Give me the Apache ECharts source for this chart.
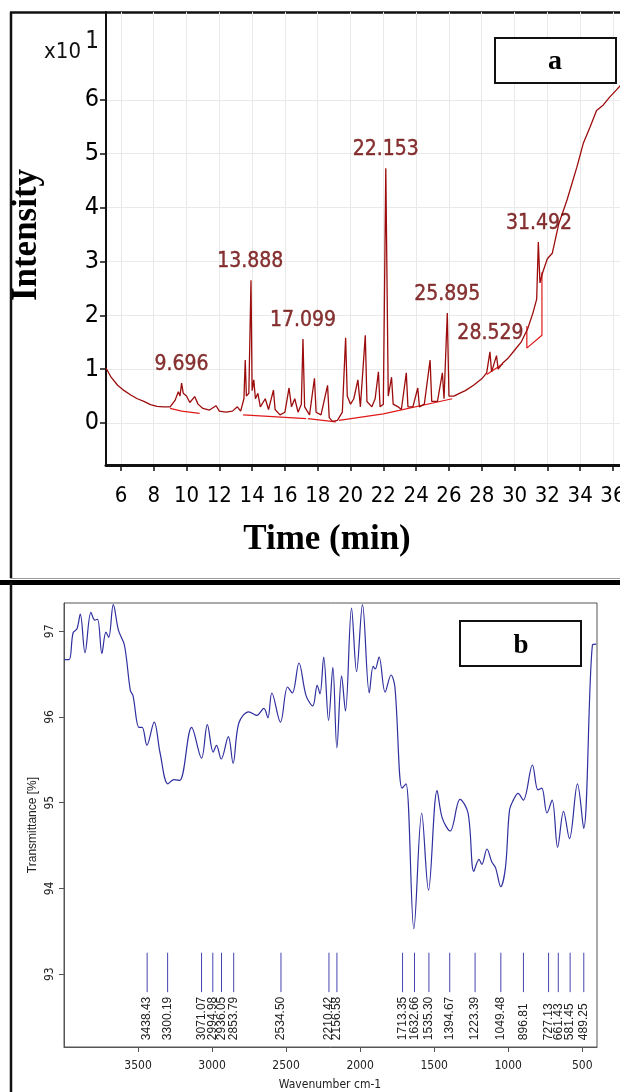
<!DOCTYPE html>
<html>
<head>
<meta charset="utf-8">
<script src="https://cdn.jsdelivr.net/npm/echarts@6/dist/echarts.min.js"></script>
<style>
html,body{margin:0;padding:0;background:#fff;}
#chart{width:620px;height:1092px;}
</style>
</head>
<body>
<div id="chart"></div>
<script>
// ---------- Panel a: GC chromatogram (intensity x10^1) ----------
const gcTime = [5.09,5.4,5.8,6.2,6.6,7.0,7.4,7.8,8.2,8.6,9.0,9.3,9.5,9.6,9.7,9.8,10.0,10.2,10.5,10.7,11.0,11.4,11.8,12.0,12.4,12.8,13.1,13.3,13.5,13.58,13.65,13.8,13.93,14.0,14.1,14.2,14.35,14.5,14.8,15.0,15.3,15.4,15.7,16.0,16.25,16.4,16.6,16.8,17.0,17.1,17.2,17.5,17.8,17.9,18.2,18.6,18.7,18.9,19.2,19.5,19.7,19.8,20.0,20.2,20.45,20.6,20.9,21.0,21.3,21.5,21.7,21.8,22.0,22.15,22.3,22.5,22.6,22.9,23.1,23.4,23.5,23.8,24.1,24.2,24.5,24.85,24.95,25.3,25.6,25.7,25.9,26.0,26.3,26.7,27.0,27.5,28.0,28.3,28.5,28.6,28.9,29.0,29.3,29.6,30.0,30.4,30.8,31.12,31.35,31.45,31.55,31.7,32.0,32.3,32.7,33.2,33.8,34.2,34.6,35.0,35.4,35.8,36.2,36.5];
const gcIntensity = [1.02,0.85,0.7,0.6,0.52,0.45,0.4,0.34,0.31,0.3,0.3,0.42,0.58,0.5,0.74,0.55,0.5,0.38,0.49,0.35,0.27,0.24,0.32,0.22,0.2,0.22,0.3,0.22,0.45,1.17,0.5,0.55,2.65,0.6,0.8,0.45,0.55,0.3,0.45,0.25,0.61,0.25,0.15,0.2,0.65,0.3,0.45,0.2,0.35,1.56,0.3,0.15,0.83,0.2,0.15,0.7,0.1,0.03,0.05,0.2,1.58,0.5,0.35,0.45,0.8,0.3,1.63,0.4,0.3,0.45,0.95,0.3,0.35,4.73,0.5,0.85,0.35,0.3,0.25,0.93,0.3,0.3,0.65,0.3,0.35,1.17,0.4,0.4,0.93,0.45,2.04,0.5,0.5,0.56,0.6,0.7,0.82,0.93,1.32,0.95,1.25,1.0,1.12,1.2,1.35,1.5,1.75,2.04,2.3,3.36,2.6,2.78,3.05,3.15,3.7,4.14,4.75,5.2,5.49,5.8,5.9,6.05,6.18,6.28];
// integration baselines (bright red segments under peaks), null separates segments
const gcBaseTime = [9.0,9.7,10.8,null,13.45,17.3,null,17.4,19.1,null,19.3,22.0,null,22.0,26.2,null,28.3,29.3,null,30.75,30.75,31.67,31.67];
const gcBaseIntensity = [0.27,0.22,0.18,null,0.15,0.08,null,0.08,0.02,null,0.05,0.17,null,0.17,0.45,null,0.9,1.1,null,1.8,1.39,1.63,2.8];
const gcPeakTimes = [9.696,13.888,17.099,22.153,25.895,28.529,31.492];
const gcPeakHeights = [0.74,2.65,1.56,4.73,2.04,1.32,3.36];
const gcPeakLabels = ['9.696','13.888','17.099','22.153','25.895','28.529','31.492'];
const gcXTicks = [6,8,10,12,14,16,18,20,22,24,26,28,30,32,34,36];
const gcYTicks = [0,1,2,3,4,5,6];

// ---------- Panel b: FTIR spectrum ----------
const ftirWavenumber = [3997,3965,3939,3912,3890,3858,3818,3792,3773,3744,3717,3698,3667,3632,3592,3552,3534,3494,3472,3440,3391,3351,3298,3258,3219,3138,3071,3032,2992,2970,2938,2890,2858,2819,2752,2698,2650,2623,2596,2538,2490,2458,2413,2365,2320,2290,2271,2246,2213,2184,2157,2125,2099,2058,2024,1984,1938,1912,1898,1872,1831,1791,1765,1717,1690,1637,1584,1538,1480,1445,1392,1325,1271,1232,1197,1178,1143,1111,1085,1050,1018,991,965,933,898,836,799,773,738,703,666,626,586,532,490,431,405];
const ftirTransmittance = [96.67,96.67,96.98,97.03,97.2,96.75,97.22,97.13,97.14,96.74,96.99,96.93,97.31,97.01,96.84,96.31,96.25,95.88,95.88,95.67,95.94,95.58,95.22,95.27,95.26,95.88,95.52,95.91,95.59,95.67,95.51,95.77,95.46,95.93,96.06,96.02,96.1,95.99,96.28,95.94,96.35,96.28,96.63,96.25,96.13,96.37,96.27,96.7,95.96,96.58,95.64,96.48,96.07,97.27,96.53,97.31,96.28,96.59,96.56,96.7,96.29,96.49,96.35,95.17,95.22,93.53,94.88,93.98,95.14,94.82,94.67,95.04,94.88,94.2,94.34,94.28,94.46,94.31,94.24,94.02,94.25,94.91,95.03,95.11,95.03,95.44,95.15,95.17,94.88,95.03,94.48,94.9,94.58,95.22,94.7,96.84,96.85];
const ftirPeaks = [3438.43,3300.19,3071.07,2994.98,2936.05,2853.79,2534.50,2210.42,2156.58,1713.35,1632.66,1535.30,1394.67,1223.39,1049.48,896.81,727.13,661.43,581.45,489.25];
const ftirPeakLabels = ['3438.43','3300.19','3071.07','2994.98','2936.05','2853.79','2534.50','2210.42','2156.58','1713.35','1632.66','1535.30','1394.67','1223.39','1049.48','896.81','727.13','661.43','581.45','489.25'];
const ftirXTicks = [500,1000,1500,2000,2500,3000,3500];
const ftirYTicks = [93,94,95,96,97];

const NARROW = "'Liberation Sans Narrow','Arial Narrow','DejaVu Sans Condensed','Liberation Sans',sans-serif";
const SERIF = "'Liberation Serif','Times New Roman',serif";
const SANS = "'Liberation Sans',Arial,sans-serif";

const chart = echarts.init(document.getElementById('chart'), null, {renderer:'canvas'});

const option = {
  backgroundColor:'#ffffff',
  animation:false,
  grid:[
    {left:106, top:12, width:514, height:453, containLabel:false, outerBoundsMode:'none'},
    {left:64, top:603, width:533, height:444, containLabel:false, outerBoundsMode:'none',
     show:true, borderColor:'#555', borderWidth:1, backgroundColor:'transparent'}
  ],
  xAxis:[
    {gridIndex:0, type:'value', min:5.09, max:36.43,
     axisLine:{show:true, onZero:false, lineStyle:{color:'#111', width:3}},
     axisTick:{show:true, customValues:gcXTicks, length:6, lineStyle:{color:'#111', width:1.5}},
     axisLabel:{show:true, customValues:gcXTicks, margin:20, color:'#000', fontSize:22, fontFamily:NARROW},
     splitLine:{show:true, lineStyle:{color:'#e9e9e9', width:1}}},
    {gridIndex:1, type:'value', min:400, max:4000, inverse:true,
     axisLine:{show:true, onZero:false, lineStyle:{color:'#555', width:1}},
     axisTick:{show:true, customValues:ftirXTicks, length:5, lineStyle:{color:'#555'}},
     axisLabel:{show:true, customValues:ftirXTicks, margin:13, color:'#222', fontSize:12, fontFamily:NARROW,
                formatter:(v)=>String(v)},
     splitLine:{show:false}}
  ],
  yAxis:[
    {gridIndex:0, type:'value', min:-0.78, max:7.63,
     axisLine:{show:true, onZero:false, lineStyle:{color:'#111', width:2}},
     axisTick:{show:true, customValues:gcYTicks, length:6, lineStyle:{color:'#111', width:1.5}},
     axisLabel:{show:true, customValues:gcYTicks, margin:7, color:'#000', fontSize:25, fontFamily:NARROW},
     splitLine:{show:true, lineStyle:{color:'#e9e9e9', width:1}}},
    {gridIndex:1, type:'value', min:92.15, max:97.33,
     axisLine:{show:true, onZero:false, lineStyle:{color:'#555', width:1}},
     axisTick:{show:true, customValues:ftirYTicks, length:5, lineStyle:{color:'#555'}},
     axisLabel:{show:true, customValues:ftirYTicks, rotate:90, margin:8, color:'#222', fontSize:12, fontFamily:NARROW},
     splitLine:{show:false}}
  ],
  series:[
    {type:'line', xAxisIndex:0, yAxisIndex:0, showSymbol:false, symbol:'none', connectNulls:false,
     data: gcBaseTime.map((t,i)=>[t, gcBaseIntensity[i]]),
     lineStyle:{color:'#e01818', width:1.2}, z:2},
    {type:'line', xAxisIndex:0, yAxisIndex:0, showSymbol:false, symbol:'none',
     data: gcTime.map((t,i)=>[t, gcIntensity[i]]),
     lineStyle:{color:'#9c0c0c', width:1.3}, z:3},
    {type:'scatter', xAxisIndex:0, yAxisIndex:0, symbolSize:0,
     data: gcPeakTimes.map((t,i)=>[t, gcPeakHeights[i]]),
     label:{show:true, position:'top', distance:8, color:'#6a0000', fontSize:21, fontFamily:NARROW,
            textBorderColor:'#6a0000', textBorderWidth:0.4,
            formatter:(p)=>gcPeakLabels[p.dataIndex]}, z:5},
    {type:'line', xAxisIndex:1, yAxisIndex:1, showSymbol:false, symbol:'none', smooth:0.35,
     data: ftirWavenumber.map((w,i)=>[w, ftirTransmittance[i]]),
     lineStyle:{color:'#2f2f9f', width:1.2}},
    {type:'custom', xAxisIndex:1, yAxisIndex:1,
     data: ftirPeaks.map(w=>[w]),
     renderItem:(params, api)=>{
       const w = api.value(0);
       const p1 = api.coord([w, 93.25]);
       const p2 = api.coord([w, 92.79]);
       const p3 = api.coord([w, 92.23]);
       return {type:'group', children:[
         {type:'line', shape:{x1:p1[0], y1:p1[1], x2:p2[0], y2:p2[1]}, style:{stroke:'#4545b0', lineWidth:1}},
         {type:'text', x:p3[0], y:p3[1], rotation:Math.PI/2,
          style:{text:ftirPeakLabels[params.dataIndex], fill:'#222', font:"12px "+SANS, align:'left', verticalAlign:'middle'}}
       ]};
     }}
  ],
  graphic:[
    // panel a frame
    {type:'line', shape:{x1:10, y1:12.5, x2:620, y2:12.5}, style:{stroke:'#111', lineWidth:2.5}, silent:true},
    {type:'line', shape:{x1:11, y1:12, x2:11, y2:578}, style:{stroke:'#111', lineWidth:2.5}, silent:true},
    {type:'line', shape:{x1:10, y1:578.5, x2:620, y2:578.5}, style:{stroke:'#999', lineWidth:1}, silent:true},
    // separator and panel b frame
    {type:'rect', shape:{x:0, y:580, width:620, height:5}, style:{fill:'#000'}, silent:true},
    {type:'line', shape:{x1:11, y1:582, x2:11, y2:1092}, style:{stroke:'#111', lineWidth:2.5}, silent:true},
    // panel a texts
    {type:'text', x:81, y:52, style:{text:'x10', fill:'#111', font:"22px "+NARROW, align:'right', verticalAlign:'middle'}},
    {type:'text', x:92, y:42, style:{text:'1', fill:'#111', font:"24px "+NARROW, align:'center', verticalAlign:'middle'}},
    {type:'text', x:27, y:235, rotation:Math.PI/2, style:{text:'Intensity', fill:'#000', font:"bold 35px "+SERIF, align:'center', verticalAlign:'middle'}},
    {type:'text', x:327, y:540, style:{text:'Time (min)', fill:'#000', font:"bold 35px "+SERIF, align:'center', verticalAlign:'middle'}},
    {type:'rect', shape:{x:495, y:38, width:121, height:45}, style:{fill:'#fff', stroke:'#111', lineWidth:2}, z:10},
    {type:'text', x:555, y:62, style:{text:'a', fill:'#000', font:"bold 28px "+SERIF, align:'center', verticalAlign:'middle'}, z:11},
    // panel b texts
    {type:'text', x:33, y:825, rotation:Math.PI/2, style:{text:'Transmittance [%]', fill:'#222', font:"12px "+SANS, align:'center', verticalAlign:'middle'}},
    {type:'text', x:330, y:1085, style:{text:'Wavenumber cm-1', fill:'#222', font:"12px "+NARROW, align:'center', verticalAlign:'middle'}},
    {type:'rect', shape:{x:460, y:621, width:121, height:45}, style:{fill:'#fff', stroke:'#111', lineWidth:2}, z:10},
    {type:'text', x:521, y:646, style:{text:'b', fill:'#000', font:"bold 27px "+SERIF, align:'center', verticalAlign:'middle'}, z:11}
  ]
};
chart.setOption(option);
</script>
</body>
</html>
